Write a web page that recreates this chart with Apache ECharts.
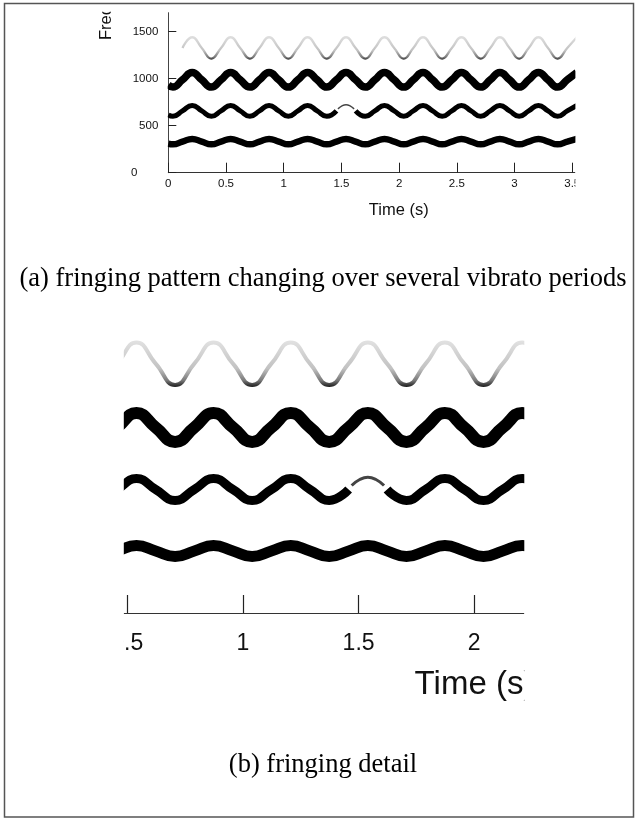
<!DOCTYPE html>
<html>
<head>
<meta charset="utf-8">
<script src="https://cdn.jsdelivr.net/npm/echarts@6.0.0/dist/echarts.min.js"></script>
<style>
  html, body { margin: 0; padding: 0; background: #fff; }
  #chart { width: 637px; height: 819px; }
</style>
</head>
<body>
<div id="chart"></div>
<script>
// sample times (s): trough, rising middle, peak, falling middle of each vibrato cycle
const times = [
  0, 0.04, 0.123, 0.207, 0.29,
  0.373, 0.457, 0.54, 0.623,
  0.707, 0.79, 0.873, 0.957,
  1.04, 1.123, 1.207, 1.29,
  1.373, 1.457, 1.54, 1.623,
  1.707, 1.79, 1.873, 1.957,
  2.04, 2.123, 2.207, 2.29,
  2.373, 2.457, 2.54, 2.623,
  2.707, 2.79, 2.873, 2.957,
  3.04, 3.123, 3.207, 3.29,
  3.373, 3.457, 3.54
];
// frequency (Hz) of each harmonic track
const h1Values = [
  309, 301, 330, 359, 330,
  301, 330, 359, 330,
  301, 330, 359, 330,
  301, 330, 359, 330,
  301, 330, 359, 330,
  301, 330, 359, 330,
  301, 330, 359, 330,
  301, 330, 359, 330,
  301, 330, 359, 330,
  301, 330, 359, 330,
  301, 330, 359
];
const h2Values = [
  615, 599, 657, 715, 657,
  599, 657, 715, 657,
  599, 657, 715, 657,
  599, 657, 715, 657,
  599, 657, null, 657,
  599, 657, 715, 657,
  599, 657, 715, 657,
  599, 657, 715, 657,
  599, 657, 715, 657,
  599, 657, 715, 657,
  599, 657, 715
];
const h3Values = [
  931, 910, 987, 1064, 987,
  910, 987, 1064, 987,
  910, 987, 1064, 987,
  910, 987, 1064, 987,
  910, 987, 1064, 987,
  910, 987, 1064, 987,
  910, 987, 1064, 987,
  910, 987, 1064, 987,
  910, 987, 1064, 987,
  910, 987, 1064, 987,
  910, 987, 1064
];
const h4Values = [
  null, null, 1326, 1439, 1326,
  1213, 1326, 1439, 1326,
  1213, 1326, 1439, 1326,
  1213, 1326, 1439, 1326,
  1213, 1326, 1439, 1326,
  1213, 1326, 1439, 1326,
  1213, 1326, 1439, 1326,
  1213, 1326, 1439, 1326,
  1213, 1326, 1439, 1326,
  1213, 1326, 1439, 1326,
  1213, 1326, 1439
];
// thin faint piece of the 2nd harmonic where it breaks up near 1.5 s
const gapTimes = [1.47, 1.505, 1.54, 1.575, 1.61];
const gapValues = [678, 710, 722, 710, 678];

// axis ticks
const timeTicks = [0, 0.5, 1, 1.5, 2, 2.5, 3, 3.5];
const detailTicks = [0.5, 1, 1.5, 2];
const freqTicks = [0, 500, 1000, 1500];

const sans = '"Liberation Sans", Arial, sans-serif';
const serif = '"Liberation Serif", "Times New Roman", serif';

const pairs = (ts, vs) => ts.map((t, i) => [t, vs[i] == null ? '-' : vs[i]]);

// 4th harmonic fades out except near its troughs
const fade = new echarts.graphic.LinearGradient(0, 0, 0, 1, [
  { offset: 0, color: '#e2e2e2' },
  { offset: 0.6, color: '#c2c2c2' },
  { offset: 0.85, color: '#7a7a7a' },
  { offset: 1, color: '#151515' }
]);

const tracks = [
  { data: pairs(times, h1Values), color: '#000', w: [6.5, 11] },
  { data: pairs(times, h2Values), color: '#000', w: [5, 9] },
  { data: pairs(gapTimes, gapValues), color: '#444', w: [1.5, 3] },
  { data: pairs(times, h3Values), color: '#000', w: [7.5, 12] },
  { data: pairs(times, h4Values), color: fade, w: [2.3, 4] }
];

const series = [];
[0, 1].forEach(g => {
  tracks.forEach(tr => {
    series.push({
      type: 'line',
      xAxisIndex: g,
      yAxisIndex: g,
      data: tr.data,
      smooth: 0.5,
      showSymbol: false,
      symbol: 'none',
      clip: true,
      lineStyle: { color: tr.color, width: tr.w[g], cap: 'butt' }
    });
  });
});

const white = { fill: '#fff' };
const centered = { align: 'center', verticalAlign: 'middle', textAlign: 'center', textVerticalAlign: 'middle' };

const chart = echarts.init(document.getElementById('chart'), null, { renderer: 'canvas' });
chart.setOption({
  animation: false,
  backgroundColor: '#fff',
  grid: [
    { left: 168.3, top: 12.7, width: 406.7, height: 160 },
    { left: 124, top: 293.4, width: 400, height: 319.6 }
  ],
  xAxis: [
    {
      type: 'value', gridIndex: 0, min: 0, max: 3.524,
      axisLine: { lineStyle: { color: '#333', width: 1 } },
      axisTick: { inside: true, length: 10, customValues: timeTicks, lineStyle: { color: '#222' } },
      axisLabel: { customValues: timeTicks, margin: 5, fontSize: 11.5, fontFamily: sans, color: '#111' },
      splitLine: { show: false }
    },
    {
      type: 'value', gridIndex: 1, min: 0.486, max: 2.215,
      axisLine: { lineStyle: { color: '#333', width: 1.2 } },
      axisTick: { inside: true, length: 18, customValues: detailTicks, lineStyle: { color: '#222', width: 1.2 } },
      axisLabel: { customValues: detailTicks, margin: 19, fontSize: 23, fontFamily: sans, color: '#111' },
      splitLine: { show: false }
    }
  ],
  yAxis: [
    {
      type: 'value', gridIndex: 0, min: 0, max: 1700,
      axisLine: { show: true, lineStyle: { color: '#444', width: 1 } },
      axisTick: { show: true, inside: true, length: 8, customValues: freqTicks, lineStyle: { color: '#222' } },
      axisLabel: {
        customValues: freqTicks, margin: 10, fontSize: 11.5, fontFamily: sans, color: '#111',
        formatter: v => (v === 0 ? '{z|0}' : String(v)),
        rich: { z: { fontSize: 11.5, fontFamily: sans, color: '#111', padding: [0, 21, 0, 0] } }
      },
      splitLine: { show: false }
    },
    { type: 'value', gridIndex: 1, min: 0, max: 1700, show: false }
  ],
  series,
  graphic: [
    // outer frame
    { type: 'rect', z: 100, shape: { x: 4.5, y: 3.5, width: 629, height: 813.5 },
      style: { fill: 'none', stroke: '#555', lineWidth: 1.5 } },
    // cut-offs of the cropped figure
    { type: 'rect', z: 90, shape: { x: 575.4, y: 12, width: 56, height: 190 }, style: white },
    { type: 'rect', z: 90, shape: { x: 158, y: 14, width: 9.7, height: 152 }, style: white },
    { type: 'rect', z: 90, shape: { x: 100, y: 320, width: 23.8, height: 342 }, style: white },
    { type: 'rect', z: 90, shape: { x: 524.3, y: 320, width: 107, height: 395 }, style: white },
    { type: 'rect', z: 90, shape: { x: 90, y: 5, width: 34, height: 6.7 }, style: white },
    // axis names
    { type: 'text', z: 80, x: 398.7, y: 210,
      style: Object.assign({ text: 'Time (s)', fontSize: 16.5, fontFamily: sans, fill: '#111' }, centered) },
    { type: 'text', z: 80, x: 106, y: 23, rotation: Math.PI / 2,
      style: Object.assign({ text: 'Freq', fontSize: 16.5, fontFamily: sans, fill: '#111' }, centered) },
    { type: 'text', z: 80, x: 474.5, y: 685,
      style: Object.assign({ text: 'Time (s)', fontSize: 33, fontFamily: sans, fill: '#111' }, centered) },
    // captions
    { type: 'text', z: 80, x: 323, y: 279,
      style: Object.assign({ text: '(a) fringing pattern changing over several vibrato periods', fontSize: 26.5, fontFamily: serif, fill: '#000' }, centered) },
    { type: 'text', z: 80, x: 323, y: 765,
      style: Object.assign({ text: '(b) fringing detail', fontSize: 26.5, fontFamily: serif, fill: '#000' }, centered) }
  ]
});
</script>
</body>
</html>
